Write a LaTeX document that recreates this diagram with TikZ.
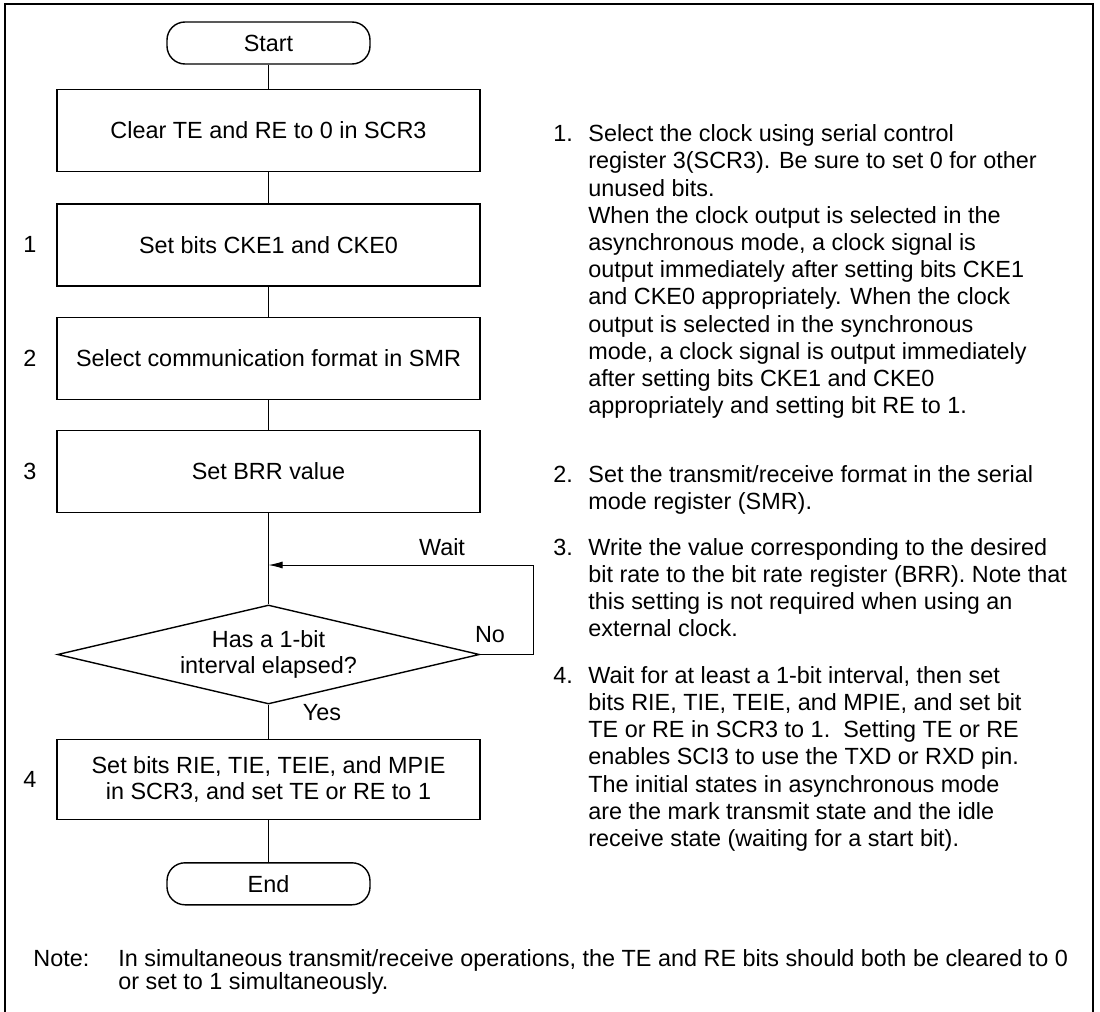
\documentclass[tikz,border=0pt]{standalone}
\usepackage{fontspec}
\setmainfont{Liberation Sans}
\usetikzlibrary{arrows.meta,positioning,shapes.geometric}
\newcommand{\flowfont}{\fontsize{11.7}{13}\selectfont}
\newcommand{\remfont}{\fontsize{11.7}{13.6}\selectfont}

\begin{document}
\begin{tikzpicture}[
  x=0.5pt,y=-0.5pt,
  every node/.style={font=\flowfont},
  stepbox/.style={draw,line width=0.7pt,minimum width=211.5pt,minimum height=41pt,align=center,inner sep=0pt},
  term/.style={draw,line width=0.7pt,rounded corners=9pt,minimum width=101.5pt,minimum height=21pt,inner sep=0pt},
  decide/.style={draw,diamond,shape aspect=4,line width=0.7pt,minimum width=211pt,minimum height=49.5pt,inner sep=0pt,align=center},
  steplabel/.style={inner sep=0pt},
  remark/.style={anchor=base west,align=left,inner sep=0pt,font=\remfont},
  edge/.style={line width=0.5pt},
  >={Latex[length=7pt,width=3.5pt]}
]
\useasboundingbox (0,0) rectangle (1100,1012);
\draw[line width=1pt] (5,1012) -- (5,4) -- (1093,4) -- (1093,1012);

% flow chart
\node[term] (start) at (268.5,43) {Start};
\node[stepbox,below=12pt of start] (clr) {Clear TE and RE to 0 in SCR3};
\node[stepbox,below=15.5pt of clr] (cke) {Set bits CKE1 and CKE0};
\node[stepbox,below=15pt of cke] (smr) {Select communication format in SMR};
\node[stepbox,below=15pt of smr] (brr) {Set BRR value};
\node[decide] (dia) at (268.5,654.5) {Has a 1-bit\\ interval elapsed?};
\node[stepbox,minimum height=40pt,below=17pt of dia] (rie) {Set bits RIE, TIE, TEIE, and MPIE\\ in SCR3, and set TE or RE to 1};
\node[term,below=21pt of rie] (end) {End};

\node[steplabel] at (30,0 |- cke) {1};
\node[steplabel] at (30,0 |- smr) {2};
\node[steplabel] at (30,0 |- brr) {3};
\node[steplabel] at (30,0 |- rie) {4};

\coordinate (waitpt) at (533,565);
\node at (442,547) {Wait};
\node at (490,635) {No};
\node at (322,713) {Yes};

\draw[edge] (start) -- (clr);
\draw[edge] (clr) -- (cke);
\draw[edge] (cke) -- (smr);
\draw[edge] (smr) -- (brr);
\draw[edge] (brr) -- (dia);
\draw[edge,->] (dia.east) -| (waitpt) -- (brr.south |- waitpt);
\draw[edge] (dia) -- (rie);
\draw[edge] (rie) -- (end);

% remarks (base = last line)
\node[remark] (n1) at (553,141.7) {1.};
\node[remark] (r1) at (588,413.7) {Select the clock using serial control\\ register 3(SCR3). Be sure to set 0 for other\\ unused bits.\\ When the clock output is selected in the\\ asynchronous mode, a clock signal is\\ output immediately after setting bits CKE1\\ and CKE0 appropriately. When the clock\\ output is selected in the synchronous\\ mode, a clock signal is output immediately\\ after setting bits CKE1 and CKE0\\ appropriately and setting bit RE to 1.};
\node[remark] (n2) at (553,482) {2.};
\node[remark] (r2) at (588,509.2) {Set the transmit/receive format in the serial\\ mode register (SMR).};
\node[remark] (n3) at (553,555) {3.};
\node[remark] (r3) at (588,636.6) {Write the value corresponding to the desired\\ bit rate to the bit rate register (BRR). Note that\\ this setting is not required when using an\\ external clock.};
\node[remark] (n4) at (553,683.3) {4.};
\node[remark] (r4) at (588,846.5) {Wait for at least a 1-bit interval, then set\\ bits RIE, TIE, TEIE, and MPIE, and set bit\\ TE or RE in SCR3 to 1.\ \ Setting TE or RE\\ enables SCI3 to use the TXD or RXD pin.\\ The initial states in asynchronous mode\\ are the mark transmit state and the idle\\ receive state (waiting for a start bit).};

\node[remark,font=\flowfont] (nt) at (33,966) {Note:};
\node[remark,font=\fontsize{11.7}{11.5}\selectfont] (ntx) at (118,989) {In simultaneous transmit/receive operations, the TE and RE bits should both be cleared to 0\\ or set to 1 simultaneously.};
\end{tikzpicture}
\end{document}
